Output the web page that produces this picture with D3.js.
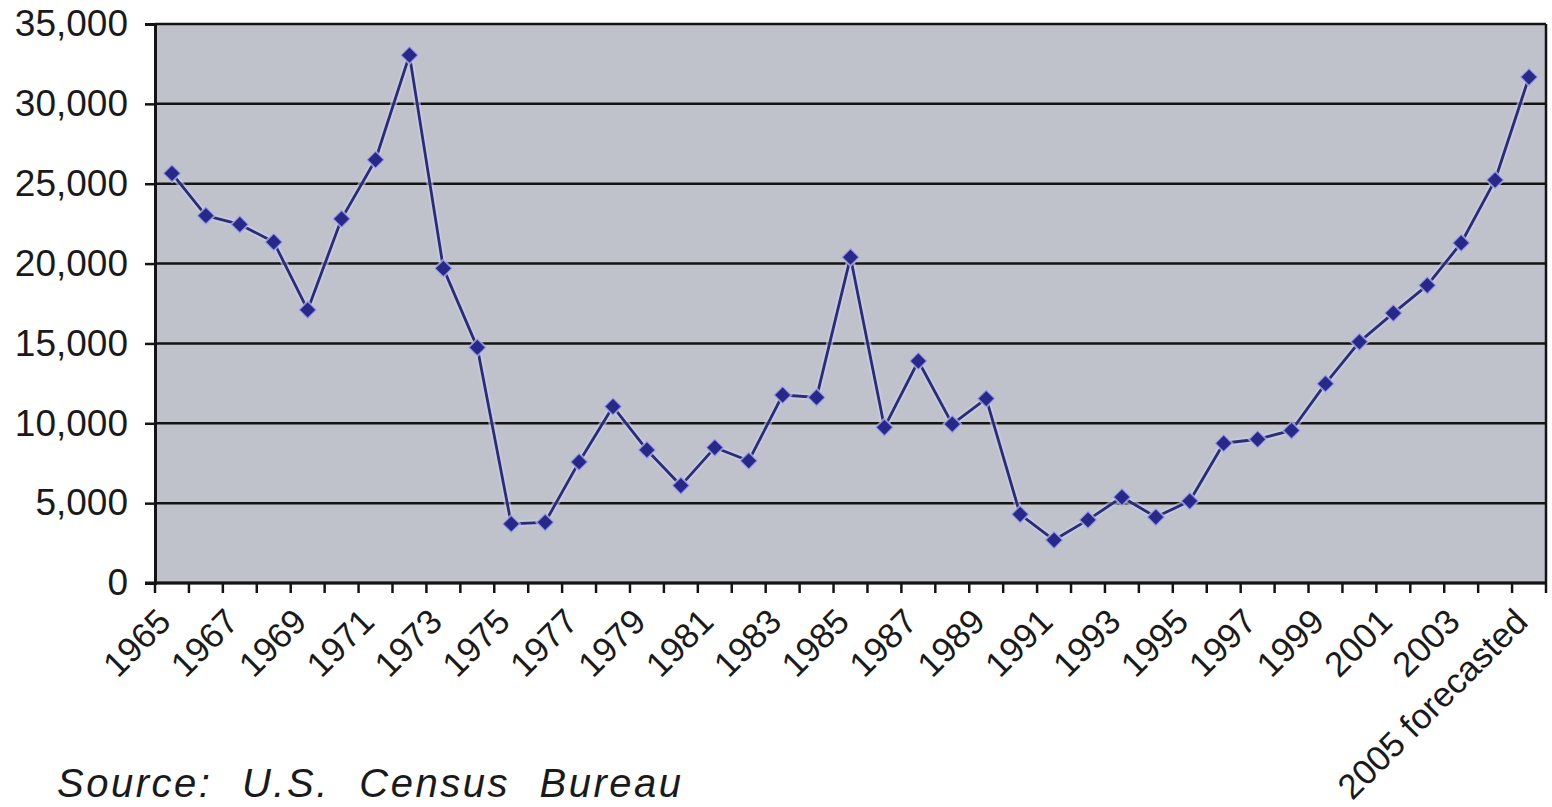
<!DOCTYPE html>
<html>
<head>
<meta charset="utf-8">
<script src="https://cdn.jsdelivr.net/npm/d3@7"></script>
<style>
  body { margin: 0; background: #fff; }
  svg { display: block; }
  text { font-family: "Liberation Sans", Arial, sans-serif; fill: #1a1a1a; }
</style>
</head>
<body>
<div id="chart"></div>
<script>
var width = 1552;
var height = 807;

// one category per year, 1965 .. 2005 (last one is a forecast)
var years = ["1965", "1966", "1967", "1968", "1969", "1970", "1971", "1972", "1973", "1974",
             "1975", "1976", "1977", "1978", "1979", "1980", "1981", "1982", "1983", "1984",
             "1985", "1986", "1987", "1988", "1989", "1990", "1991", "1992", "1993", "1994",
             "1995", "1996", "1997", "1998", "1999", "2000", "2001", "2002", "2003", "2004",
             "2005 forecasted"];

var values = [25650, 23000, 22450, 21350, 17100, 22800, 26500, 33050, 19700, 14750,
              3700, 3800, 7580, 11050, 8330, 6100, 8480, 7650, 11770, 11620,
              20400, 9750, 13900, 9950, 11550, 4300, 2690, 3950, 5380, 4130,
              5130, 8750, 9000, 9550, 12480, 15100, 16900, 18640, 21290, 25230,
              31680];

// only every other year gets a label
var labelYears = years.filter(function (d, i) { return i % 2 === 0; });

var yTicks = [0, 5000, 10000, 15000, 20000, 25000, 30000, 35000];

var plotLeft = 155, plotRight = 1546, plotTop = 24, plotBottom = 583;

var svg = d3.select("#chart")
    .append("svg")
    .attr("width", width)
    .attr("height", height);

var xScale = d3.scaleBand().domain(years).range([plotLeft, plotRight]).padding(0);
var yScale = d3.scaleLinear().domain([0, 35000]).range([plotBottom, plotTop]);

// plot background
svg.append("rect")
    .attr("x", plotLeft)
    .attr("y", plotTop)
    .attr("width", plotRight - plotLeft)
    .attr("height", plotBottom - plotTop)
    .attr("fill", "#bfc2ca");

// horizontal grid lines
svg.append("g")
    .selectAll("line")
    .data(yTicks)
    .enter()
    .append("line")
    .attr("x1", plotLeft)
    .attr("x2", plotRight)
    .attr("y1", function (d) { return yScale(d); })
    .attr("y2", function (d) { return yScale(d); })
    .attr("stroke", "#141414")
    .attr("stroke-width", 2.5);

// right border
svg.append("line")
    .attr("x1", plotRight).attr("x2", plotRight)
    .attr("y1", plotTop).attr("y2", plotBottom)
    .attr("stroke", "#141414")
    .attr("stroke-width", 2.5);

// y axis
var yAxis = d3.axisLeft(yScale)
    .tickValues(yTicks)
    .tickSize(10)
    .tickPadding(17)
    .tickFormat(d3.format(","));

var yg = svg.append("g")
    .attr("class", "y axis")
    .attr("transform", "translate(" + plotLeft + ",0)")
    .call(yAxis);

yg.select(".domain").attr("stroke", "#141414").attr("stroke-width", 3);
yg.selectAll(".tick line").attr("stroke", "#141414").attr("stroke-width", 2.5);
yg.selectAll(".tick text")
    .style("font-size", "37px")
    .attr("fill", "#1a1a1a");

// x axis: ticks sit between categories, so draw them at band edges
var edges = years.map(function (d) { return xScale(d); }).concat([plotRight]);

svg.append("g")
    .selectAll("line")
    .data(edges)
    .enter()
    .append("line")
    .attr("x1", function (d) { return d; })
    .attr("x2", function (d) { return d; })
    .attr("y1", plotBottom)
    .attr("y2", plotBottom + 10)
    .attr("stroke", "#141414")
    .attr("stroke-width", 2.5);

svg.append("line")
    .attr("x1", plotLeft - 10).attr("x2", plotRight)
    .attr("y1", plotBottom).attr("y2", plotBottom)
    .attr("stroke", "#141414")
    .attr("stroke-width", 3);

var xAxis = d3.axisBottom(xScale)
    .tickValues(labelYears)
    .tickSize(0)
    .tickPadding(0);

var xg = svg.append("g")
    .attr("class", "x axis")
    .attr("transform", "translate(0," + plotBottom + ")")
    .call(xAxis);

xg.select(".domain").remove();
xg.selectAll(".tick text")
    .style("font-size", "35px")
    .attr("fill", "#1a1a1a")
    .attr("text-anchor", "end")
    .attr("y", 0)
    .attr("dy", "0.72em")
    .attr("transform", "translate(-17,23) rotate(-45)");

// the line with a soft halo (like the original's blur)
var line = d3.line()
    .x(function (d, i) { return xScale(years[i]) + xScale.bandwidth() / 2; })
    .y(function (d) { return yScale(d); });

svg.append("path")
    .datum(values)
    .attr("d", line)
    .attr("fill", "none")
    .attr("stroke", "#c9cbf0")
    .attr("stroke-opacity", 0.6)
    .attr("stroke-width", 7)
    .attr("stroke-linejoin", "round");

svg.append("path")
    .datum(values)
    .attr("d", line)
    .attr("fill", "none")
    .attr("stroke", "#2b2d6e")
    .attr("stroke-width", 2.8)
    .attr("stroke-linejoin", "round");

// diamond markers
var diamond = d3.symbol().type(d3.symbolDiamond2).size(200);

svg.append("g")
    .selectAll("path")
    .data(values)
    .enter()
    .append("path")
    .attr("d", diamond)
    .attr("transform", function (d, i) {
        return "translate(" + (xScale(years[i]) + xScale.bandwidth() / 2) + "," + yScale(d) + ")";
    })
    .attr("fill", "#27288a")
    .attr("stroke", "#b9bcec")
    .attr("stroke-opacity", 0.7)
    .attr("stroke-width", 2);

// source note
svg.append("text")
    .attr("x", 57)
    .attr("y", 797)
    .style("font-size", "40px")
    .style("font-style", "italic")
    .style("letter-spacing", "2.5px")
    .style("word-spacing", "16px")
    .attr("fill", "#1a1a1a")
    .text("Source: U.S. Census Bureau");
</script>
</body>
</html>
